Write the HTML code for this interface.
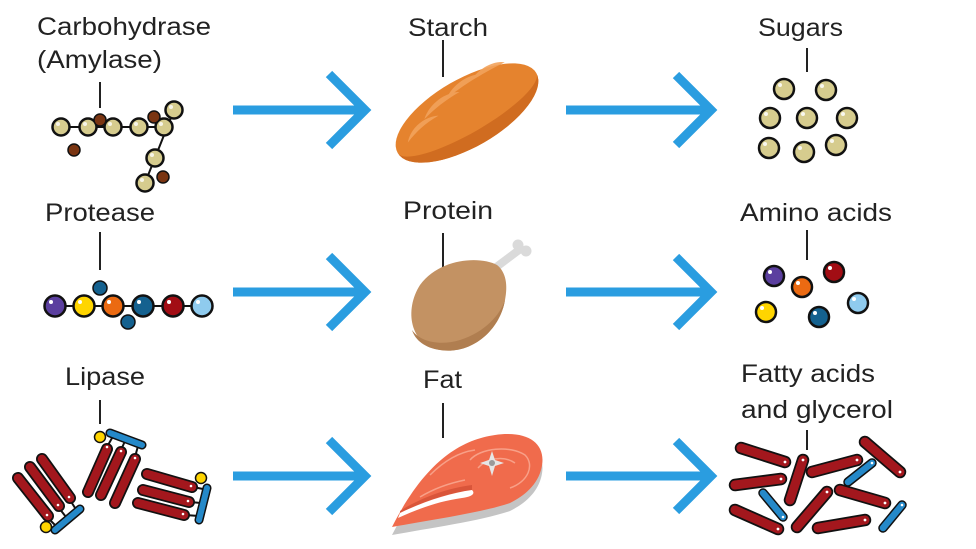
<!DOCTYPE html>
<html><head><meta charset="utf-8"><style>
html,body{margin:0;padding:0;background:#fff;}
svg{display:block;}
text{font-family:"Liberation Sans",sans-serif;font-size:25px;fill:#222;}
</style></head><body>
<svg width="976" height="549" viewBox="0 0 976 549" xmlns="http://www.w3.org/2000/svg">
<rect width="976" height="549" fill="#fff"/>
<!-- Labels -->
<text x="37" y="35" textLength="174" lengthAdjust="spacingAndGlyphs">Carbohydrase</text>
<text x="37" y="68" textLength="125" lengthAdjust="spacingAndGlyphs">(Amylase)</text>
<text x="45" y="221" textLength="110" lengthAdjust="spacingAndGlyphs">Protease</text>
<text x="65" y="385" textLength="80" lengthAdjust="spacingAndGlyphs">Lipase</text>
<text x="408" y="36" textLength="80" lengthAdjust="spacingAndGlyphs">Starch</text>
<text x="403" y="219" textLength="90" lengthAdjust="spacingAndGlyphs">Protein</text>
<text x="423" y="388" textLength="39" lengthAdjust="spacingAndGlyphs">Fat</text>
<text x="758" y="36" textLength="85" lengthAdjust="spacingAndGlyphs">Sugars</text>
<text x="740" y="221" textLength="152" lengthAdjust="spacingAndGlyphs">Amino acids</text>
<text x="741" y="382" textLength="134" lengthAdjust="spacingAndGlyphs">Fatty acids</text>
<text x="741" y="418" textLength="152" lengthAdjust="spacingAndGlyphs">and glycerol</text>

<!-- connectors -->
<g stroke="#222" stroke-width="2">
<line x1="100" y1="82" x2="100" y2="108"/>
<line x1="100" y1="232" x2="100" y2="270"/>
<line x1="100" y1="400" x2="100" y2="424"/>
<line x1="443" y1="40" x2="443" y2="77"/>
<line x1="443" y1="233" x2="443" y2="269"/>
<line x1="443" y1="403" x2="443" y2="438"/>
<line x1="807" y1="48" x2="807" y2="72"/>
<line x1="807" y1="230" x2="807" y2="260"/>
<line x1="807" y1="430" x2="807" y2="450"/>
</g>

<!-- arrows -->
<g stroke="#2a9de0" stroke-width="9" fill="none" stroke-linejoin="miter" stroke-miterlimit="10">
<line x1="233" y1="110" x2="365" y2="110"/><polyline points="329,74 365,110 329,146"/>
<line x1="233" y1="292" x2="365" y2="292"/><polyline points="329,256 365,292 329,328"/>
<line x1="233" y1="476" x2="365" y2="476"/><polyline points="329,440 365,476 329,512"/>
<line x1="566" y1="110" x2="711" y2="110"/><polyline points="676,75 711,110 676,145"/>
<line x1="566" y1="292" x2="711" y2="292"/><polyline points="676,257 711,292 676,327"/>
<line x1="566" y1="476" x2="711" y2="476"/><polyline points="676,441 711,476 676,511"/>
</g>

<!-- Carbohydrase molecule -->
<g stroke="#111" stroke-width="2">
<line x1="61" y1="127" x2="164" y2="127"/>
<line x1="174" y1="110" x2="145" y2="183"/>
</g>
<g stroke="#111" stroke-width="2.5" fill="#d6cc8e">
<circle cx="61" cy="127" r="8.5"/><circle cx="88" cy="127" r="8.5"/><circle cx="113" cy="127" r="8.5"/>
<circle cx="139" cy="127" r="8.5"/><circle cx="164" cy="127" r="8.5"/><circle cx="174" cy="110" r="8.5"/>
<circle cx="155" cy="158" r="8.5"/><circle cx="145" cy="183" r="8.5"/>
</g>
<g fill="#7a3512" stroke="#111" stroke-width="1.5">
<circle cx="100" cy="120" r="6"/><circle cx="74" cy="150" r="6"/><circle cx="154" cy="117" r="6"/><circle cx="163" cy="177" r="6"/>
</g>
<g fill="#fff" opacity="0.8">
<circle cx="58" cy="124" r="2"/><circle cx="85" cy="124" r="2"/><circle cx="110" cy="124" r="2"/><circle cx="136" cy="124" r="2"/><circle cx="161" cy="124" r="2"/><circle cx="171" cy="107" r="2"/><circle cx="152" cy="155" r="2"/><circle cx="142" cy="180" r="2"/>
</g>

<!-- Protease -->
<line x1="55" y1="306" x2="202" y2="306" stroke="#111" stroke-width="2"/>
<g stroke="#111" stroke-width="2.5">
<circle cx="55" cy="306" r="10.5" fill="#5b3f9f"/>
<circle cx="84" cy="306" r="10.5" fill="#ffd500"/>
<circle cx="113" cy="306" r="10.5" fill="#eb6a12"/>
<circle cx="143" cy="306" r="10.5" fill="#14618f"/>
<circle cx="173" cy="306" r="10.5" fill="#a20d14"/>
<circle cx="202" cy="306" r="10.5" fill="#8fcbee"/>
<circle cx="100" cy="288" r="7" fill="#14618f" stroke-width="1.5"/>
<circle cx="128" cy="322" r="7" fill="#14618f" stroke-width="1.5"/>
</g>
<g fill="#fff"><circle cx="51" cy="302" r="2"/><circle cx="80" cy="302" r="2"/><circle cx="109" cy="302" r="2"/><circle cx="139" cy="302" r="2"/><circle cx="169" cy="302" r="2"/><circle cx="198" cy="302" r="2"/></g>

<!-- Lipase clusters -->
<g stroke-linecap="round">
 <g stroke="#111" stroke-width="2"><line x1="112" y1="438" x2="107" y2="447"/><line x1="125" y1="441" x2="121" y2="450"/><line x1="138" y1="446" x2="135" y2="457"/></g>
 <g stroke="#111" stroke-width="12"><line x1="107" y1="449" x2="88" y2="492"/><line x1="121" y1="452" x2="101" y2="495"/><line x1="135" y1="459" x2="115" y2="503"/></g>
 <g stroke="#a3171d" stroke-width="8.5"><line x1="107" y1="449" x2="88" y2="492"/><line x1="121" y1="452" x2="101" y2="495"/><line x1="135" y1="459" x2="115" y2="503"/></g>
 <line x1="110" y1="433" x2="142" y2="445" stroke="#111" stroke-width="9"/>
 <line x1="110" y1="433" x2="142" y2="445" stroke="#2589c9" stroke-width="6"/>
 <circle cx="100" cy="437" r="5.5" fill="#ffd500" stroke="#111" stroke-width="1.5"/>
 <g stroke="#111" stroke-width="2"><line x1="48" y1="518" x2="55" y2="525"/><line x1="59" y1="508" x2="66" y2="517"/><line x1="70" y1="500" x2="77" y2="511"/></g>
 <g stroke="#111" stroke-width="12"><line x1="18" y1="478" x2="48" y2="516"/><line x1="30" y1="467" x2="59" y2="506"/><line x1="42" y1="459" x2="70" y2="498"/></g>
 <g stroke="#a3171d" stroke-width="8.5"><line x1="18" y1="478" x2="48" y2="516"/><line x1="30" y1="467" x2="59" y2="506"/><line x1="42" y1="459" x2="70" y2="498"/></g>
 <line x1="55" y1="530" x2="80" y2="509" stroke="#111" stroke-width="9"/>
 <line x1="55" y1="530" x2="80" y2="509" stroke="#2589c9" stroke-width="6"/>
 <circle cx="46" cy="527" r="5.5" fill="#ffd500" stroke="#111" stroke-width="1.5"/>
 <g stroke="#111" stroke-width="2"><line x1="193" y1="487" x2="203" y2="489"/><line x1="190" y1="502" x2="201" y2="503"/><line x1="185" y1="515" x2="199" y2="516"/></g>
 <g stroke="#111" stroke-width="12"><line x1="147" y1="474" x2="192" y2="487"/><line x1="143" y1="490" x2="189" y2="502"/><line x1="138" y1="503" x2="184" y2="515"/></g>
 <g stroke="#a3171d" stroke-width="8.5"><line x1="147" y1="474" x2="192" y2="487"/><line x1="143" y1="490" x2="189" y2="502"/><line x1="138" y1="503" x2="184" y2="515"/></g>
 <line x1="207" y1="488" x2="199" y2="520" stroke="#111" stroke-width="9"/>
 <line x1="207" y1="488" x2="199" y2="520" stroke="#2589c9" stroke-width="6"/>
 <circle cx="201" cy="478" r="5.5" fill="#ffd500" stroke="#111" stroke-width="1.5"/>
</g>
<g fill="#fff"><circle cx="107" cy="447" r="1.3"/><circle cx="121" cy="451" r="1.3"/><circle cx="135" cy="458" r="1.3"/><circle cx="47" cy="515" r="1.3"/><circle cx="58" cy="505" r="1.3"/><circle cx="69" cy="497" r="1.3"/><circle cx="191" cy="486" r="1.3"/><circle cx="188" cy="501" r="1.3"/><circle cx="183" cy="514" r="1.3"/></g>

<!-- Bread -->
<g transform="translate(467,113) rotate(-30)">
 <ellipse cx="0" cy="0" rx="80" ry="34" fill="#e5832e"/>
 <path d="M-80 0 A80 34 0 0 0 80 0 A80 20 0 0 1 -80 0 Z" fill="#d06c20"/>
 <g fill="#f2a35c" opacity="0.9">
  <path d="M-66 -4 C-56 -16 -38 -18 -26 -12 C-42 -12 -54 -9 -66 -4 Z"/>
  <path d="M-40 -16 C-28 -27 -8 -29 4 -22 C-12 -22 -26 -20 -40 -16 Z"/>
  <path d="M-10 -23 C2 -32 22 -33 32 -26 C18 -26 4 -25 -10 -23 Z"/>
  <path d="M20 -26 C32 -33 50 -32 58 -25 C46 -26 32 -26 20 -26 Z"/>
 </g>
</g>

<!-- Drumstick -->
<line x1="495" y1="268" x2="519" y2="250" stroke="#dadada" stroke-width="8" stroke-linecap="round"/>
<circle cx="518" cy="245" r="5.5" fill="#dadada"/><circle cx="526" cy="251" r="5.5" fill="#dadada"/>
<path d="M497 265 C480 256 440 258 420 285 C404 310 410 345 440 350 C472 355 500 330 505 300 C508 285 506 272 497 265 Z" fill="#c39263"/>
<path d="M505 300 C500 330 472 355 440 350 C425 348 415 340 412 330 C420 342 440 346 460 340 C485 332 500 315 505 300 Z" fill="#b07e50"/>

<!-- Salmon -->
<path d="M392 535 C425 470 460 448 495 443 C530 438 548 453 541 478 C536 496 520 506 510 511 C480 521 430 528 392 535 Z" fill="#c4c4c4"/>
<path d="M392 527 C425 462 460 440 495 435 C530 430 548 445 541 470 C536 488 520 498 510 503 C480 513 430 520 392 527 Z" fill="#f06b4c"/>
<path d="M400 511 C420 498 448 488 472 485 L472 490 C448 493 422 502 400 513 Z" fill="#d9553a"/>
<path d="M400 513 C425 501 450 493 472 490 C476 494 471 497 462 498 C440 501 420 508 398 518 Z" fill="#fff"/>
<g fill="none" stroke="#f8a088" stroke-width="1.5">
<path d="M470 460 C480 448 510 445 525 455 C535 465 528 482 510 488"/>
<path d="M478 468 C488 457 505 456 515 463"/>
<path d="M430 475 C445 460 460 452 475 450"/>
<path d="M420 497 C435 488 450 483 465 480"/>
</g>
<path d="M492 451 L495 460 L504 463 L495 466 L492 476 L489 466 L480 463 L489 460 Z" fill="#e6e6e6"/>
<circle cx="492" cy="463" r="3" fill="#9a9a9a"/>

<!-- Sugars -->
<g stroke="#111" stroke-width="2.5" fill="#d6cc8e">
<circle cx="784" cy="89" r="10"/><circle cx="826" cy="90" r="10"/>
<circle cx="770" cy="118" r="10"/><circle cx="807" cy="118" r="10"/><circle cx="847" cy="118" r="10"/>
<circle cx="769" cy="148" r="10"/><circle cx="804" cy="152" r="10"/><circle cx="836" cy="145" r="10"/>
</g>
<g fill="#fff" opacity="0.85"><circle cx="780" cy="85" r="2"/><circle cx="822" cy="86" r="2"/><circle cx="766" cy="114" r="2"/><circle cx="803" cy="114" r="2"/><circle cx="843" cy="114" r="2"/><circle cx="765" cy="144" r="2"/><circle cx="800" cy="148" r="2"/><circle cx="832" cy="141" r="2"/></g>

<!-- Amino acids -->
<g stroke="#111" stroke-width="2.5">
<circle cx="774" cy="276" r="10" fill="#5b3f9f"/>
<circle cx="802" cy="287" r="10" fill="#eb6a12"/>
<circle cx="834" cy="272" r="10" fill="#a20d14"/>
<circle cx="858" cy="303" r="10" fill="#8fcbee"/>
<circle cx="766" cy="312" r="10" fill="#ffd500"/>
<circle cx="819" cy="317" r="10" fill="#14618f"/>
</g>
<g fill="#fff"><circle cx="770" cy="272" r="2"/><circle cx="798" cy="283" r="2"/><circle cx="830" cy="268" r="2"/><circle cx="854" cy="299" r="2"/><circle cx="762" cy="308" r="2"/><circle cx="815" cy="313" r="2"/></g>

<!-- Fatty acids and glycerol -->
<g stroke-linecap="round">
 <g stroke="#111" stroke-width="12.5">
  <line x1="741" y1="448" x2="785" y2="462"/><line x1="803" y1="460" x2="790" y2="500"/>
  <line x1="812" y1="472" x2="857" y2="460"/><line x1="865" y1="442" x2="900" y2="472"/>
  <line x1="735" y1="485" x2="781" y2="479"/><line x1="827" y1="492" x2="797" y2="527"/>
  <line x1="840" y1="490" x2="885" y2="503"/><line x1="735" y1="510" x2="778" y2="529"/>
  <line x1="818" y1="528" x2="865" y2="520"/>
 </g>
 <g stroke="#a3171d" stroke-width="9">
  <line x1="741" y1="448" x2="785" y2="462"/><line x1="803" y1="460" x2="790" y2="500"/>
  <line x1="812" y1="472" x2="857" y2="460"/><line x1="865" y1="442" x2="900" y2="472"/>
  <line x1="735" y1="485" x2="781" y2="479"/><line x1="827" y1="492" x2="797" y2="527"/>
  <line x1="840" y1="490" x2="885" y2="503"/><line x1="735" y1="510" x2="778" y2="529"/>
  <line x1="818" y1="528" x2="865" y2="520"/>
 </g>
 <g stroke="#111" stroke-width="9.5">
  <line x1="848" y1="482" x2="872" y2="463"/><line x1="763" y1="493" x2="783" y2="517"/><line x1="902" y1="505" x2="883" y2="528"/>
 </g>
 <g stroke="#2589c9" stroke-width="6.5">
  <line x1="848" y1="482" x2="872" y2="463"/><line x1="763" y1="493" x2="783" y2="517"/><line x1="902" y1="505" x2="883" y2="528"/>
 </g>
</g>
<g fill="#fff"><circle cx="785" cy="462" r="1.4"/><circle cx="803" cy="460" r="1.4"/><circle cx="857" cy="460" r="1.4"/><circle cx="900" cy="472" r="1.4"/><circle cx="781" cy="479" r="1.4"/><circle cx="827" cy="492" r="1.4"/><circle cx="885" cy="503" r="1.4"/><circle cx="778" cy="529" r="1.4"/><circle cx="865" cy="520" r="1.4"/><circle cx="872" cy="463" r="1.3"/><circle cx="783" cy="517" r="1.3"/><circle cx="902" cy="505" r="1.3"/></g>
</svg>
</body></html>
